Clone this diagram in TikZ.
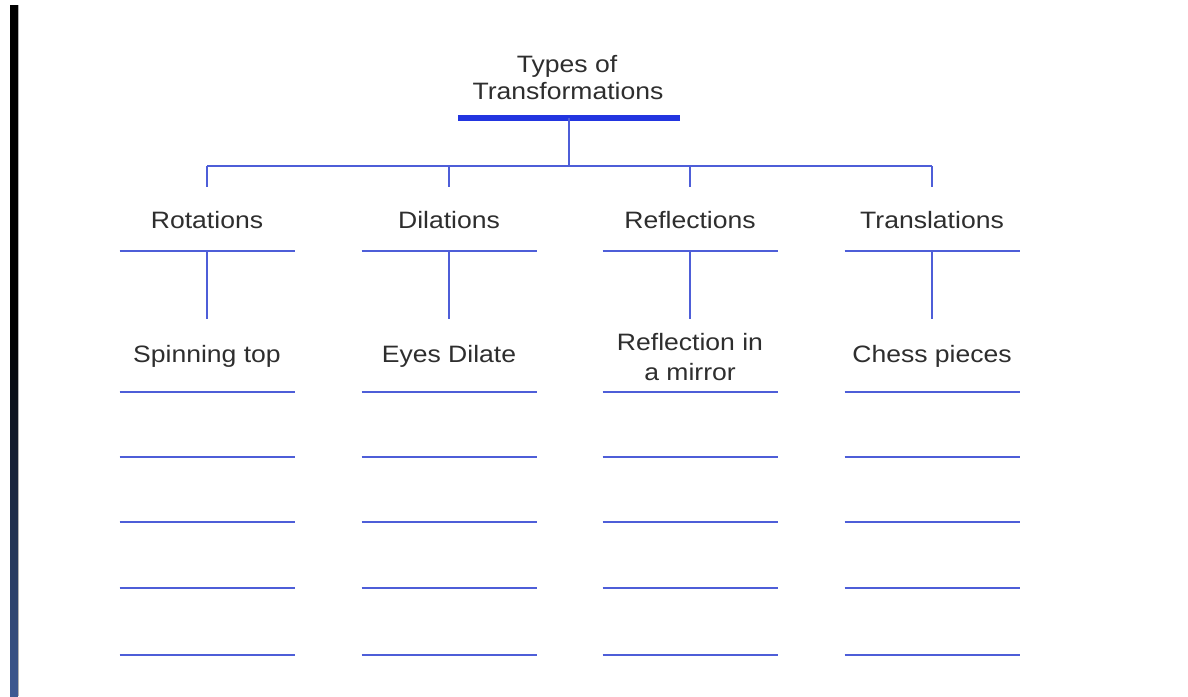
\documentclass[tikz,border=0pt]{standalone}
\usepackage{fontspec}
\newfontfamily\diagfont[FakeStretch=1.12]{Liberation Sans}
\definecolor{txt}{HTML}{2E2E2E}
\definecolor{thinblue}{HTML}{4E5ED8}
\definecolor{thickblue}{HTML}{2235E0}
\definecolor{barblue}{HTML}{3E5A92}
\begin{document}
\begin{tikzpicture}[x=1pt,y=-1pt,
  lbl/.style={font=\diagfont\fontsize{23.7}{29}\selectfont, text=txt, anchor=base, inner sep=0pt},
  uline/.style={draw=thinblue, line width=2.8pt},
  conn/.style={draw=thinblue, line width=2.2pt},
  titlebar/.style={draw=thickblue, line width=6pt}]
\useasboundingbox (0,0) rectangle (1188,696);
\fill[white] (0,0) rectangle (1188,696);
% left bar
\fill[black] (10,5) rectangle (18,331);
\foreach \i in {0,...,36}{
  \pgfmathsetmacro{\p}{\i*100/36}
  \fill[barblue!\p!black] (10,330+\i*10) rectangle (18,341+\i*10);
}
\fill[black!30] (18,5) rectangle (19,696);
% title
\node[lbl] (t1) at (567,72) {Types of};
\node[lbl] (t2) at (568,99) {Transformations};
\coordinate (tbL) at (458,118);
\coordinate (tbR) at (680,118);
\coordinate (tbC) at (569,118);
\draw[titlebar] (tbL) -- (tbR);
\coordinate (bus) at (569,166);
\draw[conn] (tbC) -- (bus);
\coordinate (busL) at (207,166);
\coordinate (busR) at (932,166);
\draw[conn] (busL) -- (busR);
% columns
\foreach \n/\x/\cat in {a/207/Rotations, b/449/Dilations, c/690/Reflections, d/932/Translations}{
  \coordinate (\n top) at (\x,166);
  \coordinate (\n drop) at (\x,187);
  \draw[conn] (\n top) -- (\n drop);
  \node[lbl] (\n cat) at (\x,228) {\cat};
  \coordinate (\n uc) at (\x,251);
  \draw[uline] (\x-87.5,251) -- (\x+87.5,251);
  \coordinate (\n ue) at (\x,319);
  \draw[conn] (\n uc) -- (\n ue);
  \foreach \yy in {392,457,522,588,655}{
    \draw[uline] (\x-87.5,\yy) -- (\x+87.5,\yy);
  }
}
\node[lbl] (aex) at (207,362) {Spinning top};
\node[lbl] (bex) at (449,362) {Eyes Dilate};
\node[lbl] (cex1) at (690,350) {Reflection in};
\node[lbl] (cex2) at (690,380) {a mirror};
\node[lbl] (dex) at (932,362) {Chess pieces};
\end{tikzpicture}
\end{document}
